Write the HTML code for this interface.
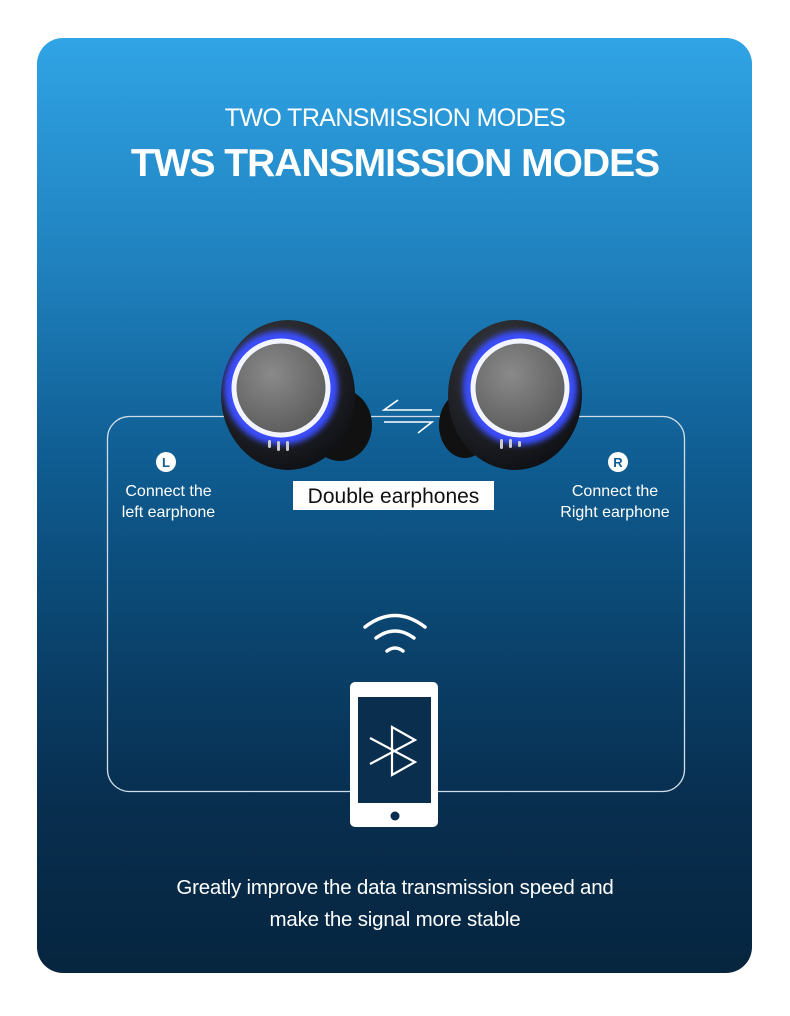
<!DOCTYPE html>
<html><head><meta charset="utf-8">
<style>
html,body{margin:0;padding:0;background:#fff;width:790px;height:1016px;overflow:hidden;font-family:"Liberation Sans",sans-serif;}
.card{position:absolute;left:37px;top:38px;width:715px;height:935px;border-radius:26px;background:linear-gradient(180deg,#30a4e5 0%,#1f80bd 25%,#0f5d92 45%,#0a426c 65%,#082e4f 82%,#06253f 100%);overflow:hidden;}
.t{position:absolute;left:0;width:790px;text-align:center;color:#fff;}
</style></head><body>
<div class="card"></div>
<div class="t" style="top:104px;font-size:25px;letter-spacing:-0.6px;">TWO TRANSMISSION MODES</div>
<div class="t" style="top:142px;font-size:39px;font-weight:bold;letter-spacing:-1px;">TWS TRANSMISSION MODES</div>
<svg width="790" height="1016" style="position:absolute;left:0;top:0">
<defs>
<radialGradient id="g" cx="0.4" cy="0.35" r="0.7"><stop offset="0" stop-color="#8a8a8a"/><stop offset="1" stop-color="#5a5a5a"/></radialGradient>
<radialGradient id="b" cx="0.4" cy="0.3" r="0.8"><stop offset="0" stop-color="#3a3d44"/><stop offset="1" stop-color="#0b0c10"/></radialGradient>
<filter id="gl"><feGaussianBlur stdDeviation="3"/></filter>
</defs>
<rect x="107.5" y="416.5" width="577" height="375" rx="22" fill="none" stroke="#cfdde8" stroke-width="1.3"/>
<!-- left earbud -->
<ellipse cx="340" cy="425" rx="32" ry="36" fill="#111"/>
<ellipse cx="288" cy="395" rx="67" ry="75" fill="url(#b)"/>
<circle cx="281" cy="388" r="51" fill="none" stroke="#3a4dff" stroke-width="12" filter="url(#gl)"/>
<circle cx="281" cy="388" r="47" fill="url(#g)" stroke="#f2f4ff" stroke-width="5"/>
<rect x="268" y="440" width="3" height="8" rx="1.5" fill="#ccc"/><rect x="277" y="441" width="3" height="10" rx="1.5" fill="#ccc"/><rect x="286" y="441" width="3" height="10" rx="1.5" fill="#ccc"/>
<!-- right earbud -->
<ellipse cx="465" cy="425" rx="26" ry="33" fill="#111"/>
<ellipse cx="515" cy="395" rx="67" ry="75" fill="url(#b)"/>
<circle cx="520" cy="388" r="51" fill="none" stroke="#3a4dff" stroke-width="12" filter="url(#gl)"/>
<circle cx="520" cy="388" r="47" fill="url(#g)" stroke="#f2f4ff" stroke-width="5"/>
<rect x="500" y="439" width="3" height="10" rx="1.5" fill="#ccc"/><rect x="509" y="439" width="3" height="9" rx="1.5" fill="#ccc"/><rect x="518" y="441" width="3" height="6" rx="1.5" fill="#ccc"/>
<!-- arrows -->
<g stroke="#fff" stroke-width="1.6" fill="none">
<path d="M432 410 H384 L398 400"/><path d="M384 422 H432 L418 433"/>
</g>
<!-- L R -->
<circle cx="166" cy="462" r="10" fill="#fff"/>
<text x="166" y="467" font-size="13" font-weight="bold" fill="#0f5d92" text-anchor="middle" font-family="Liberation Sans">L</text>
<circle cx="618" cy="462" r="10" fill="#fff"/>
<text x="618" y="467" font-size="13" font-weight="bold" fill="#0f5d92" text-anchor="middle" font-family="Liberation Sans">R</text>
<!-- double earphones label -->
<rect x="293" y="481" width="201" height="29" fill="#fff"/>
<text x="393.5" y="503" font-size="21" fill="#111" text-anchor="middle" font-family="Liberation Sans">Double earphones</text>
<!-- wifi -->
<g stroke="#fff" stroke-width="3.5" fill="none" stroke-linecap="round">
<path d="M365 627 Q395 604 425 627"/><path d="M376 638 Q395 624 414 638"/><path d="M387 651 Q395 645 403 651"/>
</g>
<!-- phone -->
<rect x="350" y="682" width="88" height="145" rx="5" fill="#fff"/>
<rect x="358" y="697" width="73" height="106" fill="#0a2e4e"/>
<circle cx="395" cy="816" r="4.5" fill="#0a2e4e"/>
<path d="M370 738 L415 762 L392 775 V727 L415 740 L370 764" fill="none" stroke="#fff" stroke-width="2.2"/>
</svg>
<div style="position:absolute;left:100px;width:137px;top:481px;text-align:center;color:#fff;font-size:16px;line-height:21px;">Connect the<br>left earphone</div>
<div style="position:absolute;left:545px;width:140px;top:481px;text-align:center;color:#fff;font-size:16px;line-height:21px;">Connect the<br>Right earphone</div>
<div class="t" style="top:872px;font-size:20.5px;line-height:32px;letter-spacing:-0.2px;">Greatly improve the data transmission speed and<br>make the signal more stable</div>
</body></html>
